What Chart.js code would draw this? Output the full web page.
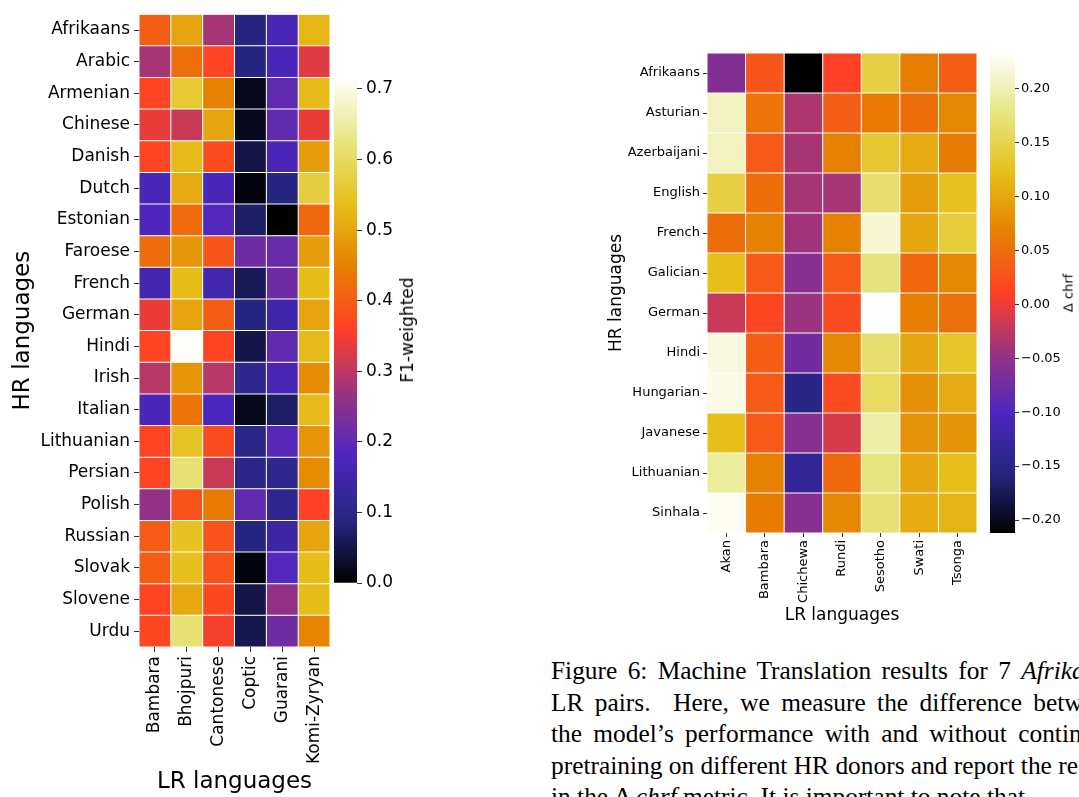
<!DOCTYPE html>
<html>
<head>
<meta charset="utf-8">
<script src="https://cdn.jsdelivr.net/npm/chart.js@4.4.1/dist/chart.umd.min.js"></script>
<style>
  body { margin: 0; width: 1079px; height: 797px; overflow: hidden; background: #fff; position: relative; font-family: "DejaVu Sans"; }
  canvas, .lbl, .caption { position: absolute; }
  .lbl { transform: translate(-50%, -50%) rotate(-90deg); white-space: nowrap; color: #000; }
  .caption { left: 551px; top: 655px; font-family: "Liberation Serif"; font-size: 25.4px; line-height: 31.5px; white-space: pre; color: #000; }
</style>
</head>
<body>
<canvas id="left" width="340" height="797" style="left:0;top:0"></canvas>
<canvas id="leftBar" width="110" height="540" style="left:334px;top:60px"></canvas>
<div class="lbl" style="left:407px;top:330px;font-size:17px">F1-weighted</div>
<canvas id="right" width="400" height="600" style="left:590px;top:40px"></canvas>
<canvas id="rightBar" width="89" height="520" style="left:990px;top:33px"></canvas>
<div class="lbl" style="left:1068px;top:293px;font-size:13px">Δ chrf</div>
<div class="caption"><span style="word-spacing:4px">Figure 6: Machine Translation results for 7 <i>Afrikaans</i></span>
<span style="word-spacing:5px">LR pairs.  Here, we measure the difference between</span>
<span style="word-spacing:5px">the model’s performance with and without continued</span>
<span>pretraining on different HR donors and report the results</span>
<span>in the Δ <i>chrf</i> metric. It is important to note that</span></div>

<script>
// F1-weighted, HR donor x LR target
const hrLeft = ['Afrikaans', 'Arabic', 'Armenian', 'Chinese', 'Danish', 'Dutch', 'Estonian', 'Faroese', 'French', 'German',
    'Hindi', 'Irish', 'Italian', 'Lithuanian', 'Persian', 'Polish', 'Russian', 'Slovak', 'Slovene', 'Urdu'];
const lrLeft = ['Bambara', 'Bhojpuri', 'Cantonese', 'Coptic', 'Guarani', 'Komi-Zyryan'];
const f1Bambara = [0.40, 0.28, 0.365, 0.34, 0.365, 0.17, 0.18, 0.42, 0.155, 0.34, 0.365, 0.295, 0.17, 0.365, 0.365, 0.26, 0.395, 0.40, 0.365, 0.37];
const f1Bhojpuri = [0.50, 0.425, 0.56, 0.31, 0.53, 0.51, 0.42, 0.48, 0.535, 0.50, 0.716, 0.48, 0.43, 0.55, 0.615, 0.385, 0.545, 0.54, 0.505, 0.615];
const f1Cantonese = [0.28, 0.365, 0.45, 0.50, 0.375, 0.17, 0.185, 0.39, 0.155, 0.40, 0.365, 0.295, 0.175, 0.375, 0.31, 0.44, 0.385, 0.385, 0.37, 0.35];
const f1Coptic = [0.09, 0.09, 0.02, 0.02, 0.05, 0.01, 0.07, 0.22, 0.06, 0.09, 0.05, 0.11, 0.02, 0.10, 0.10, 0.20, 0.09, 0.01, 0.05, 0.055];
const f1Guarani = [0.165, 0.17, 0.20, 0.20, 0.17, 0.09, 0.0, 0.21, 0.22, 0.15, 0.20, 0.165, 0.07, 0.19, 0.11, 0.11, 0.14, 0.185, 0.26, 0.22];
const f1Komi = [0.525, 0.33, 0.53, 0.34, 0.49, 0.57, 0.415, 0.49, 0.535, 0.50, 0.53, 0.465, 0.53, 0.48, 0.465, 0.36, 0.50, 0.535, 0.535, 0.455];
const f1Ticks = [0, 0.1, 0.2, 0.3, 0.4, 0.5, 0.6, 0.7];

// delta chrf, HR donor x LR target
const hrRight = ['Afrikaans', 'Asturian', 'Azerbaijani', 'English', 'French', 'Galician', 'German', 'Hindi', 'Hungarian',
    'Javanese', 'Lithuanian', 'Sinhala'];
const lrRight = ['Akan', 'Bambara', 'Chichewa', 'Rundi', 'Sesotho', 'Swati', 'Tsonga'];
const chrfAkan = [-0.061, 0.206, 0.205, 0.145, 0.05, 0.122, -0.02, 0.22, 0.222, 0.122, 0.19, 0.228];
const chrfBambara = [0.03, 0.055, 0.033, 0.05, 0.068, 0.033, 0.017, 0.037, 0.033, 0.033, 0.068, 0.063];
const chrfChichewa = [-0.212, -0.034, -0.038, -0.038, -0.042, -0.058, -0.044, -0.073, -0.15, -0.058, -0.136, -0.058];
const chrfRundi = [0.01, 0.037, 0.066, -0.038, 0.067, 0.033, 0.02, 0.073, 0.02, -0.012, 0.045, 0.073];
const chrfSesotho = [0.144, 0.06, 0.135, 0.168, 0.215, 0.175, 0.233, 0.168, 0.16, 0.195, 0.178, 0.17];
const chrfSwati = [0.064, 0.05, 0.104, 0.092, 0.10, 0.045, 0.064, 0.10, 0.08, 0.085, 0.10, 0.105];
const chrfTsonga = [0.037, 0.072, 0.063, 0.125, 0.14, 0.073, 0.052, 0.13, 0.104, 0.085, 0.122, 0.112];
const chrfTicks = [-0.2, -0.15, -0.1, -0.05, 0, 0.05, 0.1, 0.15, 0.2];

// CMRmap-like colour stops
const cmStops = [[0, 0, 0], [38, 38, 128], [77, 38, 191], [153, 51, 128], [255, 64, 38],
    [230, 128, 0], [230, 191, 26], [230, 230, 128], [255, 255, 255]];

function cmap(t) {
    t = Math.min(1, Math.max(0, t));
    const s = t * (cmStops.length - 1);
    const i = Math.min(Math.floor(s), cmStops.length - 2);
    const f = s - i;
    const c = cmStops[i].map((v, k) => Math.round(v + (cmStops[i + 1][k] - v) * f));
    return 'rgb(' + c.join(',') + ')';
}

Chart.defaults.font.family = 'DejaVu Sans';
Chart.defaults.color = '#000';
Chart.defaults.animation = false;

function heatmap(id, rows, cols, columns, vmin, vmax, o) {
    new Chart(document.getElementById(id), {
        type: 'bar',
        data: {
            labels: rows,
            datasets: columns.map((vals, j) => ({
                label: cols[j],
                data: vals.map(() => 1),
                backgroundColor: vals.map(v => cmap((v - vmin) / (vmax - vmin))),
                borderColor: '#fff',
                borderWidth: 0.5,
                borderSkipped: false,
                inflateAmount: 0,
                barPercentage: 1,
                categoryPercentage: 1
            }))
        },
        options: {
            indexAxis: 'y',
            responsive: false,
            devicePixelRatio: 1,
            layout: { padding: { top: o.top, right: o.right, left: 0, bottom: 0 } },
            plugins: { legend: { display: false }, tooltip: { enabled: false } },
            scales: {
                x: {
                    type: 'linear', stacked: true, min: 0, max: cols.length,
                    afterBuildTicks: s => { s.ticks = cols.map((c, i) => ({ value: i + 0.5 })); },
                    afterFit: s => { s.height = o.xh; },
                    ticks: {
                        autoSkip: false, minRotation: 90, maxRotation: 90, padding: o.tickPad,
                        font: { size: o.tickSize },
                        callback: (v, i) => cols[i]
                    },
                    grid: { drawOnChartArea: false, tickLength: o.tickLen, color: '#333' },
                    border: { display: false },
                    title: { display: true, text: 'LR languages', font: { size: o.titleSize }, padding: { top: 0, bottom: o.xTitlePad } }
                },
                y: {
                    stacked: true,
                    afterFit: s => { s.width = o.yw; },
                    ticks: { autoSkip: false, padding: o.tickPad, font: { size: o.tickSize } },
                    grid: { drawOnChartArea: false, offset: false, tickLength: o.tickLen, color: '#333' },
                    border: { display: false },
                    title: { display: true, text: 'HR languages', font: { size: o.titleSize }, padding: { top: o.yTitlePad, bottom: 0 } }
                }
            }
        }
    });
}

function colorbar(id, vmin, vmax, ticks, o) {
    new Chart(document.getElementById(id), {
        type: 'bar',
        data: {
            labels: [''],
            datasets: [{
                data: [[vmin, vmax]],
                backgroundColor: c => {
                    const a = c.chart.chartArea;
                    if (!a) return null;
                    const g = c.chart.ctx.createLinearGradient(0, a.bottom, 0, a.top);
                    cmStops.forEach((s, i) => g.addColorStop(i / (cmStops.length - 1), 'rgb(' + s.join(',') + ')'));
                    return g;
                },
                borderWidth: 0,
                barPercentage: 1,
                categoryPercentage: 1
            }]
        },
        options: {
            responsive: false,
            devicePixelRatio: 1,
            layout: { padding: { top: o.top, bottom: o.bottom, left: 0, right: 0 } },
            plugins: { legend: { display: false }, tooltip: { enabled: false } },
            scales: {
                x: { display: false },
                y: {
                    position: 'right', min: vmin, max: vmax,
                    afterBuildTicks: s => { s.ticks = ticks.map(v => ({ value: v })); },
                    afterFit: s => { s.width = o.w; },
                    ticks: {
                        padding: o.tickPad, font: { size: o.tickSize },
                        callback: v => v.toFixed(o.dec).replace('-', '\u2212')
                    },
                    grid: { drawOnChartArea: false, tickLength: o.tickLen, color: '#333' },
                    border: { display: false }
                }
            }
        }
    });
}

heatmap('left', hrLeft, lrLeft, [f1Bambara, f1Bhojpuri, f1Cantonese, f1Coptic, f1Guarani, f1Komi], 0, 0.717,
    { top: 11, right: 10, xh: 150, yw: 139, tickSize: 17, tickLen: 5, tickPad: 4, titleSize: 23, xTitlePad: 1, yTitlePad: 9 });
colorbar('leftBar', 0, 0.717, f1Ticks, { top: 17, bottom: 17, w: 87, tickSize: 17, tickLen: 5, tickPad: 4, dec: 1 });

heatmap('right', hrRight, lrRight, [chrfAkan, chrfBambara, chrfChichewa, chrfRundi, chrfSesotho, chrfSwati, chrfTsonga], -0.212, 0.233,
    { top: 13, right: 13, xh: 107, yw: 117, tickSize: 13, tickLen: 4, tickPad: 3, titleSize: 17, xTitlePad: 14, yTitlePad: 16 });
colorbar('rightBar', -0.212, 0.233, chrfTicks, { top: 20, bottom: 20, w: 64, tickSize: 13, tickLen: 4, tickPad: 2, dec: 2 });
</script>
</body>
</html>
